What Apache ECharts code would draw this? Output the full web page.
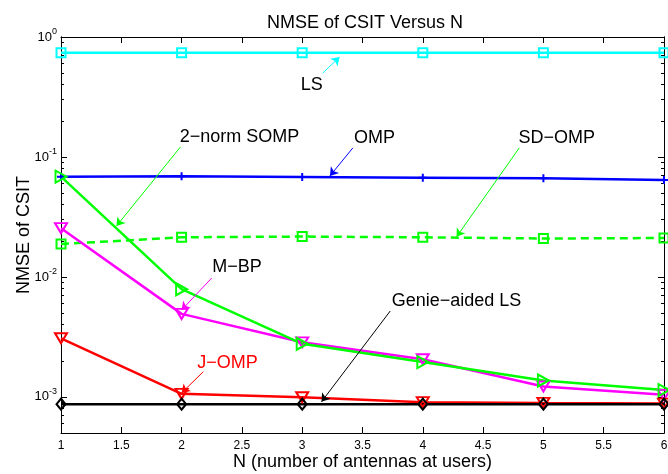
<!DOCTYPE html>
<html>
<head>
<meta charset="utf-8">
<script src="https://cdn.jsdelivr.net/npm/echarts@6/dist/echarts.min.js"></script>
<style>
  html, body { margin: 0; padding: 0; background: #fff; }
  #chart { width: 668px; height: 474px; }
</style>
</head>
<body>
<div id="chart"></div>
<script>
// N (number of antennas at users)
var nValues = [1, 2, 3, 4, 5, 6];

// NMSE values
var lsNmse = [0.74, 0.74, 0.74, 0.74, 0.74, 0.74];
var ompNmse = [0.0685, 0.069, 0.068, 0.067, 0.0664, 0.0643];
var sdOmpNmse = [0.0188, 0.0214, 0.0217, 0.0214, 0.0209, 0.0211];
var mbpNmse = [0.0255, 0.00492, 0.00285, 0.00206, 0.00122, 0.00104];
var somp2NormNmse = [0.0685, 0.0079, 0.00277, 0.00195, 0.00137, 0.00114];
var jompNmse = [0.00308, 0.00106, 0.000993, 0.000903, 0.00089, 0.00088];
var genieLsNmse = [0.00087, 0.00087, 0.00087, 0.00087, 0.00087, 0.00087];

// y axis decades and their exponent labels
var yDecades = [0.001, 0.01, 0.1, 1];
var yDecadeExponents = ['-3', '-2', '-1', '0'];

var FONT = '"Liberation Sans", Arial, Helvetica, sans-serif';
var Y_MIN = 0.0005, Y_MAX = 1;

// minor ticks 2..9 x 10^k inside the range
var yMinor = [];
for (var k = -4; k <= -1; k++) {
  for (var m = 2; m <= 9; m++) {
    var v = m * Math.pow(10, k);
    if (v >= Y_MIN && v <= Y_MAX) yMinor.push(v);
  }
}

var SYM = {
  plus: 'path://M3,0 H5 V3 H8 V5 H5 V8 H3 V5 H0 V3 H3 Z',
  triRight: 'path://M0,0 L12,6 L0,12 Z',
  triDown: 'path://M0,0 L12,0 L6,11 Z'
};

// text callouts with arrows (data coordinates)
var annotations = [
  { series: 'LS', text: 'LS', color: '#000', textAt: [3.08, 0.40], from: [3.17, 0.50], to: [3.31, 0.68], arrow: '#00ffff' },
  { series: 'OMP', text: 'OMP', color: '#000', textAt: [3.60, 0.144], from: [3.42, 0.119], to: [3.23, 0.0695], arrow: '#0000ff' },
  { series: 'SD-OMP', text: 'SD\u2212OMP', color: '#000', textAt: [5.11, 0.144], from: [4.80, 0.119], to: [4.28, 0.0216], arrow: '#00ff00' },
  { series: '2-norm SOMP', text: '2\u2212norm SOMP', color: '#000', textAt: [2.48, 0.147], from: [1.99, 0.121], to: [1.46, 0.0266], arrow: '#00ff00' },
  { series: 'M-BP', text: 'M\u2212BP', color: '#000', textAt: [2.46, 0.0121], from: [2.25, 0.0098], to: [2.0, 0.0053], arrow: '#ff00ff' },
  { series: 'J-OMP', text: 'J\u2212OMP', color: '#ff0000', textAt: [2.38, 0.00192], from: [2.18, 0.00162], to: [2.0, 0.00108], arrow: '#ff0000' },
  { series: 'Genie-aided LS', text: 'Genie\u2212aided LS', color: '#000', textAt: [4.28, 0.0063], from: [3.73, 0.0052], to: [3.16, 0.00091], arrow: '#000000' }
];

function pairs(ys) {
  return nValues.map(function (x, i) { return [x, ys[i]]; });
}

function makeSeries(name, ys, color, symbol, size, hollow, dashed) {
  var s = {
    name: name,
    type: 'line',
    data: pairs(ys),
    symbol: symbol,
    symbolSize: size,
    showAllSymbol: true,
    lineStyle: { color: color, width: 2.5, type: dashed ? [8, 5] : 'solid' },
    itemStyle: hollow
      ? { color: 'rgba(0,0,0,0)', borderColor: color, borderWidth: 2 }
      : { color: color, borderWidth: 0 },
    emphasis: { disabled: true },
    silent: true,
    z: 3
  };
  annotations.forEach(function (a) {
    if (a.series !== name) return;
    s.markLine = {
      silent: true,
      symbol: ['none', 'arrow'],
      symbolSize: 8,
      lineStyle: { color: a.arrow, width: 1, type: 'solid' },
      label: { show: false },
      emphasis: { disabled: true },
      data: [[{ coord: a.from }, { coord: a.to }]]
    };
    s.markPoint = {
      silent: true,
      symbol: 'rect',
      symbolSize: 0,
      itemStyle: { color: 'rgba(0,0,0,0)' },
      label: {
        show: true, position: 'inside', formatter: '{b}',
        color: a.color, fontSize: 18, fontFamily: FONT
      },
      data: [{ name: a.text, coord: a.textAt }]
    };
  });
  return s;
}

var series = [
  makeSeries('LS', lsNmse, '#00ffff', 'rect', 9, true, false),
  makeSeries('OMP', ompNmse, '#0000ff', SYM.plus, 8, false, false),
  makeSeries('SD-OMP', sdOmpNmse, '#00ff00', 'rect', 9, true, true),
  makeSeries('M-BP', mbpNmse, '#ff00ff', SYM.triDown, [12, 10], true, false),
  makeSeries('2-norm SOMP', somp2NormNmse, '#00ff00', SYM.triRight, [11, 12], true, false),
  makeSeries('J-OMP', jompNmse, '#ff0000', SYM.triDown, [12, 10], true, false),
  makeSeries('Genie-aided LS', genieLsNmse, '#000000', 'diamond', [9, 11], true, false)
];

function xAxisCfg(pos, withLabels) {
  return {
    type: 'value', position: pos, min: 1, max: 6, interval: 0.5,
    axisLine: { show: true, onZero: false, lineStyle: { color: '#000', width: 1 } },
    axisTick: { show: true, inside: true, length: 6, lineStyle: { color: '#000' } },
    axisLabel: { show: withLabels, color: '#000', fontSize: 12, fontFamily: FONT, margin: 7 },
    splitLine: { show: false }
  };
}

function yAxisCfg(pos, ticks, len, withLabels) {
  return {
    type: 'log', logBase: 10, position: pos, min: Y_MIN, max: Y_MAX,
    axisLine: { show: true, lineStyle: { color: '#000', width: 1 } },
    axisTick: { show: true, inside: true, length: len, customValues: ticks, lineStyle: { color: '#000' } },
    axisLabel: {
      show: withLabels, customValues: yDecades, margin: 4, color: '#000', fontFamily: FONT,
      formatter: function (v) {
        var e = Math.round(Math.log10(v));
        var i = yDecades.findIndex(function (d) { return Math.round(Math.log10(d)) === e; });
        return '{b|10}{s|' + yDecadeExponents[i] + '}';
      },
      rich: {
        b: { fontSize: 13, fontFamily: FONT, color: '#000' },
        s: { fontSize: 9, fontFamily: FONT, color: '#000', padding: [0, 0, 10, 0] }
      }
    },
    splitLine: { show: false }
  };
}

var yLeft = yAxisCfg('left', yDecades, 6, true);
yLeft.name = 'NMSE of CSIT';
yLeft.nameLocation = 'middle';
yLeft.nameGap = 28;
yLeft.nameMoveOverlap = false;
yLeft.nameTextStyle = { color: '#000', fontSize: 18, fontFamily: FONT };

var xBottom = xAxisCfg('bottom', true);
xBottom.name = 'N (number of antennas at users)';
xBottom.nameLocation = 'middle';
xBottom.nameGap = 20;
xBottom.nameMoveOverlap = false;
xBottom.nameTextStyle = { color: '#000', fontSize: 18, fontFamily: FONT };

var chart = echarts.init(document.getElementById('chart'), null, { renderer: 'canvas' });
chart.setOption({
  animation: false,
  backgroundColor: '#ffffff',
  title: {
    text: 'NMSE of CSIT Versus N',
    left: 262, top: 9,
    textStyle: { color: '#000', fontSize: 18, fontWeight: 'normal', fontFamily: FONT }
  },
  grid: { left: 61, right: 4, top: 37, bottom: 41, containLabel: false, outerBoundsMode: 'none' },
  xAxis: [xBottom, xAxisCfg('top', false)],
  yAxis: [
    yLeft,
    yAxisCfg('left', yMinor, 3, false),
    yAxisCfg('right', yDecades, 6, false),
    yAxisCfg('right', yMinor, 3, false)
  ],
  series: series
});
</script>
</body>
</html>
